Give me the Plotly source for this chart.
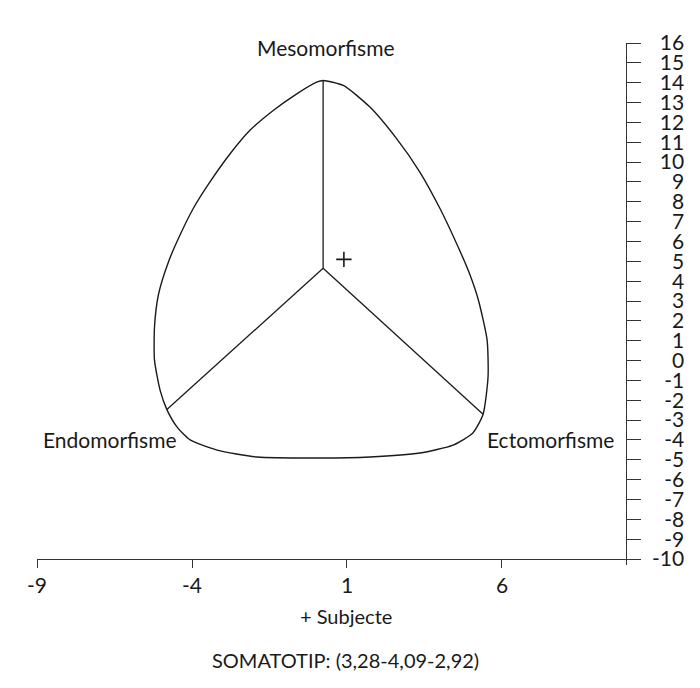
import plotly.graph_objects as go

# Somatochart outline, clockwise from the mesomorph apex
outline_x = [0.23, 0.88, 1.74, 2.60, 3.35, 4.00, 4.56, 4.93, 5.24, 5.52, 5.55, 5.39, 5.06, 4.42,
             3.35, 1.74, 0.13, -1.90, -3.19, -4.06, -4.48, -4.81, -5.03, -5.21, -5.21,
             -5.08, -4.76, -4.39, -3.96, -3.42, -2.77, -2.13, -1.38, -0.62, 0.02, 0.23]
outline_y = [14.11, 13.86, 12.77, 11.18, 9.50, 7.66, 5.81, 4.47, 3.04, 1.03, -0.83, -2.70, -3.65,
             -4.26, -4.66, -4.86, -4.91, -4.86, -4.51, -4.00, -3.35, -2.47, -1.49, 0.02, 1.68,
             3.34, 4.97, 6.31, 7.66, 9.00, 10.42, 11.60, 12.60, 13.44, 14.03, 14.11]

# centre of the chart and the three poles
centre = (0.23, 4.65)
poles = {"Mesomorfisme": (0.23, 14.11), "Endomorfisme": (-4.81, -2.47), "Ectomorfisme": (5.39, -2.70)}

# pole label positions
label_pos = {"Mesomorfisme": (0.32, 15.77), "Endomorfisme": (-6.65, -4.0), "Ectomorfisme": (7.55, -4.0)}

# subject
subject_x = [0.90]
subject_y = [5.10]

x_ticks = [-9, -4, 1, 6]
y_ticks = list(range(-10, 17))

FONT = "Lato"
INK = "#1a1a1a"
AXIS = "#333333"

fig = go.Figure()

fig.add_trace(go.Scatter(x=outline_x, y=outline_y, mode="lines",
                         line=dict(color=INK, width=1.4, shape="spline", smoothing=0.6),
                         hoverinfo="skip"))

for name, (px, py) in poles.items():
    fig.add_trace(go.Scatter(x=[centre[0], px], y=[centre[1], py], mode="lines",
                             line=dict(color=INK, width=1.3), hoverinfo="skip"))

fig.add_trace(go.Scatter(x=subject_x, y=subject_y, mode="markers",
                         marker=dict(symbol="cross-thin", size=11,
                                     line=dict(color=INK, width=1.6)),
                         name="Subjecte"))

# invisible trace to drive the label axis on the far right
fig.add_trace(go.Scatter(x=[None], y=[None], yaxis="y2", showlegend=False))

for name, (lx, ly) in label_pos.items():
    fig.add_annotation(x=lx, y=ly, text=name, showarrow=False,
                       xanchor="center", yanchor="middle",
                       font=dict(family=FONT, size=21, color=INK))

fig.add_annotation(x=0.473, y=-0.0976, xref="paper", yref="paper", text="+ Subjecte",
                   showarrow=False, xanchor="center", yanchor="middle",
                   font=dict(family=FONT, size=20, color=INK))
fig.add_annotation(x=0.473, y=-0.182, xref="paper", yref="paper",
                   text="SOMATOTIP: (3,28-4,09-2,92)", xanchor="center", yanchor="middle",
                   showarrow=False, font=dict(family=FONT, size=20, color=INK))

fig.update_layout(
    width=692, height=680,
    margin=dict(l=29, r=10, t=34.5, b=123),
    paper_bgcolor="white", plot_bgcolor="white",
    showlegend=False,
    font=dict(family=FONT, color=INK),
    xaxis=dict(range=[-9, 10.5], domain=[0, 0.9257], anchor="free", position=0.3 / 26.3,
               showgrid=False, zeroline=False, showline=True, linecolor=AXIS, linewidth=1.3,
               tickvals=x_ticks, ticktext=[str(v) for v in x_ticks],
               ticks="outside", ticklen=8, tickcolor=AXIS, tickwidth=1.3,
               tickfont=dict(family=FONT, size=21, color=INK)),
    yaxis=dict(range=[-10.3, 16], anchor="free", position=0.902, side="right",
               showgrid=False, zeroline=False, showline=True, linecolor=AXIS, linewidth=1.3,
               tickvals=y_ticks, ticks="outside", ticklen=14, tickcolor=AXIS, tickwidth=1.3,
               showticklabels=False),
    yaxis2=dict(range=[-10.3, 16], overlaying="y", anchor="free", position=0.991, side="left",
                showgrid=False, zeroline=False, showline=False, ticks="",
                tickvals=y_ticks, ticktext=[str(v) for v in y_ticks],
                tickfont=dict(family=FONT, size=21, color=INK)),
)

fig.write_html("out.html")
